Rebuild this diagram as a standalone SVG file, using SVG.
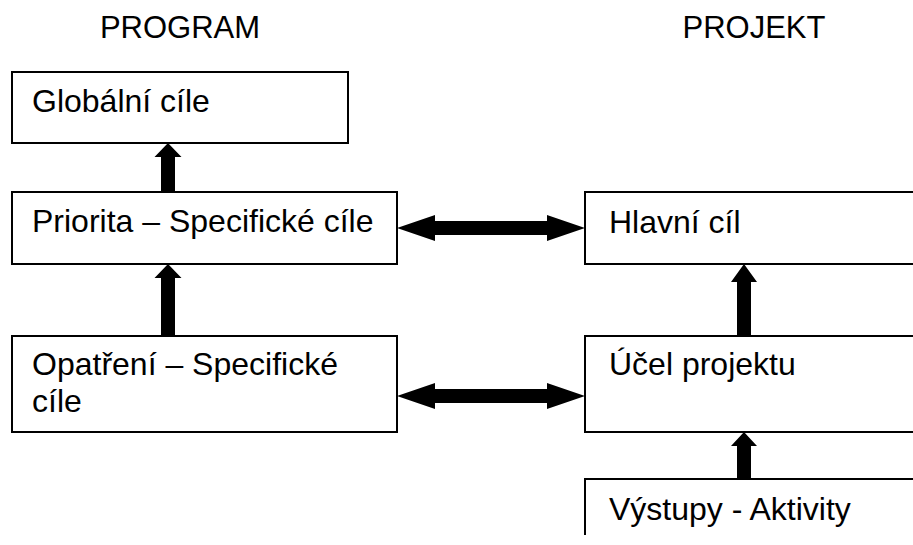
<svg xmlns="http://www.w3.org/2000/svg" width="913" height="545" viewBox="0 0 913 545">
<style>
.box{fill:#fff;stroke:#000;stroke-width:2}
.t{font-family:"Liberation Sans",Arial,sans-serif;font-size:32px;fill:#000}
.h{font-family:"Liberation Sans",Arial,sans-serif;font-size:31px;fill:#000;text-anchor:middle}
.arr{fill:#000;stroke:none}
</style>
<rect width="913" height="545" fill="#fff"/>
<text class="h" x="180" y="38">PROGRAM</text>
<text class="h" x="754" y="38">PROJEKT</text>
<g id="globalni">
<rect class="box" x="12" y="72" width="336" height="71"/>
<text class="t" x="32" y="112">Globální cíle</text>
</g>
<g id="priorita">
<rect class="box" x="12" y="192" width="385" height="72"/>
<text class="t" x="32" y="232">Priorita – Specifické cíle</text>
</g>
<g id="opatreni">
<rect class="box" x="12" y="336" width="385" height="96"/>
<text class="t" x="32" y="375">Opatření – Specifické</text>
<text class="t" x="32" y="412">cíle</text>
</g>
<g id="hlavni">
<rect class="box" x="585" y="192" width="340" height="72"/>
<text class="t" x="609" y="233">Hlavní cíl</text>
</g>
<g id="ucel">
<rect class="box" x="585" y="336" width="340" height="96"/>
<text class="t" x="609" y="375">Účel projektu</text>
</g>
<g id="vystupy">
<path class="box" fill="none" d="M920,479 L585,479 L585,535"/>
<text class="t" x="609" y="520">Výstupy - Aktivity</text>
</g>
<g id="connectors">
<path class="arr" d="M168,143 L181.5,157 L175,157 L175,192 L161,192 L161,157 L154.5,157 Z"/>
<path class="arr" d="M168,264 L181.5,278 L175,278 L175,336 L161,336 L161,278 L154.5,278 Z"/>
<path class="arr" d="M744,264 L757,282 L751,282 L751,336 L737,336 L737,282 L731,282 Z"/>
<path class="arr" d="M744,432 L757,446 L751,446 L751,479 L737,479 L737,446 L731,446 Z"/>
<path class="arr" d="M397,228 L435,215 L435,221 L547,221 L547,215 L585,228 L547,241 L547,235 L435,235 L435,241 Z"/>
<path class="arr" d="M397,396 L435,383 L435,389 L547,389 L547,383 L585,396 L547,409 L547,403 L435,403 L435,409 Z"/>
</g>
</svg>
